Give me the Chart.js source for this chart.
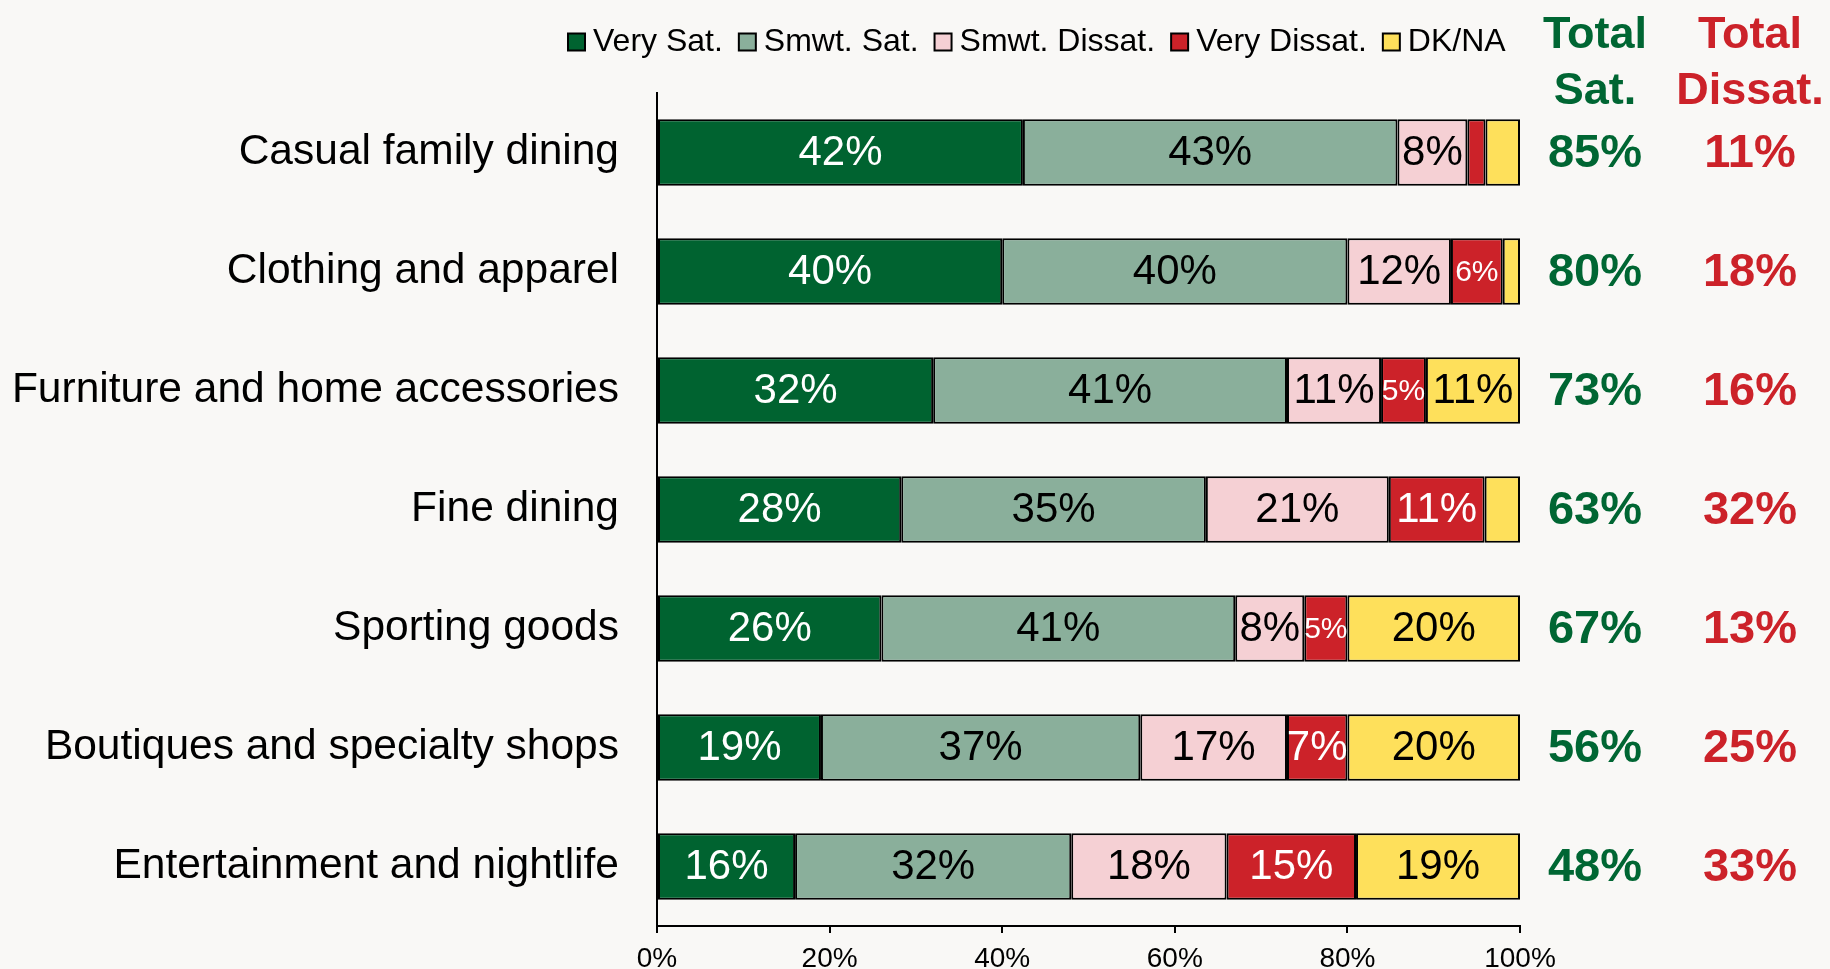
<!DOCTYPE html>
<html>
<head>
<meta charset="utf-8">
<title>Satisfaction by category</title>
<script src="https://cdn.jsdelivr.net/npm/chart.js@4.4.1/dist/chart.umd.min.js"></script>
<style>
  html, body { margin: 0; padding: 0; background: #f9f8f6; }
  #wrap { width: 1830px; height: 969px; position: relative; }
</style>
</head>
<body>
<div id="wrap"><canvas id="satChart"></canvas></div>
<script>
  const categories = [
    'Casual family dining',
    'Clothing and apparel',
    'Furniture and home accessories',
    'Fine dining',
    'Sporting goods',
    'Boutiques and specialty shops',
    'Entertainment and nightlife'
  ];
  const seriesNames = ['Very Sat.', 'Smwt. Sat.', 'Smwt. Dissat.', 'Very Dissat.', 'DK/NA'];

  // shares in percent
  const verySat    = [42.4, 40, 32,   28.3, 26, 19, 16];
  const smwtSat    = [43.4, 40, 41,   35.3, 41, 37, 32];
  const smwtDissat = [8.1,  12, 10.9, 21.2, 8,  17, 18];
  const veryDissat = [2.1,  6,  5.2,  11.1, 5,  7,  15];
  const dkNa       = [4.0,  2,  10.9, 4.1,  20, 20, 19];

  // the two columns on the right
  const totalSat    = [85, 80, 73, 63, 67, 56, 48];
  const totalDissat = [11, 18, 16, 32, 13, 25, 33];

  const xTickValues = [0, 20, 40, 60, 80, 100];

  const FONT = "'Liberation Sans', Arial, sans-serif";
  const GREEN = '#006633';
  const RED = '#cc2229';
  const barColors = ['#006330', '#8aaf9b', '#f5d0d4', '#cc2229', '#fee05b'];
  const labelColors = ['#ffffff', '#000000', '#000000', '#ffffff', '#000000'];

  /* values inside the bar segments */
  const segmentLabels = {
    id: 'segmentLabels',
    afterDatasetsDraw(chart) {
      const ctx = chart.ctx;
      ctx.save();
      ctx.textAlign = 'center';
      ctx.textBaseline = 'middle';
      chart.data.datasets.forEach((ds, i) => {
        const meta = chart.getDatasetMeta(i);
        meta.data.forEach((bar, j) => {
          const v = ds.data[j];
          if (v < 5) return;
          ctx.font = (v < 7 ? '30px ' : '42px ') + FONT;
          ctx.fillStyle = labelColors[i];
          ctx.fillText(Math.round(v) + '%', (bar.x + bar.base) / 2, bar.y + 1);
        });
      });
      ctx.restore();
    }
  };

  /* Total Sat. / Total Dissat. columns */
  const totalsColumns = {
    id: 'totalsColumns',
    afterDraw(chart) {
      const ctx = chart.ctx;
      const yScale = chart.scales.y;
      const right = chart.chartArea.right;
      const cols = [
        { x: right + 75, color: GREEN, head: ['Total', 'Sat.'], values: totalSat },
        { x: right + 230, color: RED, head: ['Total', 'Dissat.'], values: totalDissat }
      ];
      ctx.save();
      ctx.textAlign = 'center';
      ctx.textBaseline = 'middle';
      cols.forEach((col) => {
        ctx.fillStyle = col.color;
        ctx.font = 'bold 45px ' + FONT;
        ctx.fillText(col.head[0], col.x, 36);
        ctx.fillText(col.head[1], col.x, 92);
        ctx.font = 'bold 47px ' + FONT;
        col.values.forEach((v, j) => {
          ctx.fillText(v + '%', col.x, yScale.getPixelForValue(j) + 2);
        });
      });
      ctx.restore();
    }
  };

  // legend sits over the bars, not centred on the canvas
  const legendPlacer = {
    id: 'legendPlacer',
    beforeDraw(chart) {
      chart.legend.left = 552;
      chart.legend.right = chart.width;
      chart.legend.top = 2;
    }
  };

  const seriesData = [verySat, smwtSat, smwtDissat, veryDissat, dkNa];

  const data = {
    labels: categories,
    datasets: seriesNames.map((name, i) => ({
      label: name,
      data: seriesData[i],
      backgroundColor: barColors[i],
      borderColor: '#000000',
      borderWidth: 2,
      borderSkipped: false,
      barPercentage: 0.56,
      categoryPercentage: 1
    }))
  };

  const config = {
    type: 'bar',
    data: data,
    options: {
      indexAxis: 'y',
      responsive: true,
      maintainAspectRatio: false,
      animation: false,
      layout: { padding: { top: 27, right: 310, bottom: 0, left: 0 } },
      scales: {
        x: {
          stacked: true,
          min: 0,
          max: 100,
          afterBuildTicks: (scale) => {
            scale.ticks = xTickValues.map((v) => ({ value: v }));
          },
          afterFit: (scale) => { scale.height = 43; },
          ticks: {
            color: '#000000',
            font: { family: FONT, size: 28 },
            padding: 9,
            maxRotation: 0,
            callback: (v) => v + '%'
          },
          grid: {
            display: true,
            drawOnChartArea: false,
            drawTicks: true,
            tickLength: 7,
            color: '#000000',
            lineWidth: 2
          },
          border: { display: true, color: '#000000', width: 2 }
        },
        y: {
          stacked: true,
          afterFit: (scale) => {
            scale.width = 657;
            // no extra room for the end labels, the bands are offset anyway
            scale.paddingTop = 0;
            scale.paddingBottom = 0;
          },
          ticks: {
            color: '#000000',
            font: { family: FONT, size: 42.5 },
            padding: 38
          },
          grid: { display: false, drawTicks: false },
          border: { display: true, color: '#000000', width: 2 }
        }
      },
      plugins: {
        legend: {
          position: 'top',
          align: 'start',
          labels: {
            color: '#000000',
            font: { family: FONT, size: 32 },
            usePointStyle: true,
            pointStyle: 'rect',
            boxWidth: 1,
            boxHeight: 17,
            padding: 24
          }
        },
        tooltip: { enabled: false }
      }
    },
    plugins: [segmentLabels, totalsColumns, legendPlacer]
  };

  new Chart(document.getElementById('satChart'), config);
</script>
</body>
</html>
